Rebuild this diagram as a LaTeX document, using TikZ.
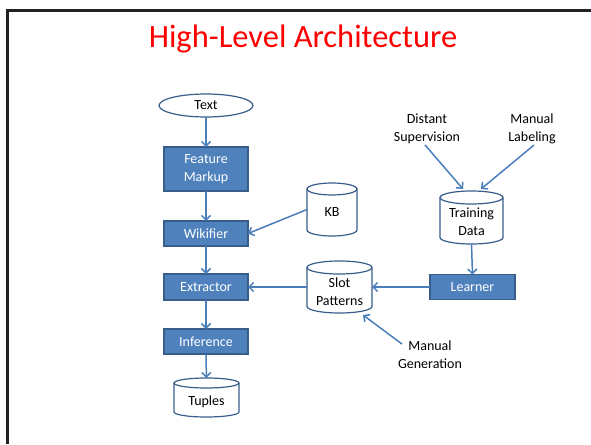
\documentclass[tikz,border=0pt]{standalone}
\usepackage{fontspec}
\setmainfont{Carlito}
\usetikzlibrary{shapes.geometric,arrows.meta,calc}
\definecolor{boxfill}{HTML}{4F81BD}
\definecolor{boxline}{HTML}{385D8A}
\definecolor{arrowblue}{HTML}{4A7EBB}
\definecolor{titlered}{HTML}{FF0000}
\definecolor{framegray}{HTML}{222222}

% outline of a data store: #1 node name, #2 half width, #3 radius of the end ellipses
\newcommand\storeoutline[3]{%
  \draw[cylline] ([yshift=-#3]#1.north west) -- ([yshift=#3]#1.south west)
    arc[start angle=180,end angle=360,x radius=#2,y radius=#3]
    -- ([yshift=-#3]#1.north east);
  \draw[cylline] ([yshift=-#3]#1.north) ellipse[x radius=#2,y radius=#3];
}

\begin{document}
\begin{tikzpicture}[x=1pt,y=-1pt,
  every node/.style={font=\fontsize{14}{18}\selectfont, outer sep=0pt},
  stage/.style={rectangle, fill=boxfill, draw=boxline, line width=1.2pt,
    text=white, minimum width=84pt, align=center, inner sep=0pt},
  store/.style={rectangle, draw=none, inner sep=0pt},
  cylline/.style={draw=boxline, line width=1.2pt},
  flow/.style={draw=arrowblue, line width=1.5pt,
    -{Straight Barb[length=4.5pt,width=9pt]}},
  note/.style={align=center, inner sep=1pt}]

\useasboundingbox (0,0) rectangle (591,444);

% slide frame
\draw[framegray, line width=2.5pt] (7.5,444) -- (7.5,10.5) -- (591,10.5);

% title
\node[anchor=base, text=titlered, font=\fontsize{32.5}{38}\selectfont] (title) at (303,48) {High-Level Architecture};

% main pipeline
\node[ellipse, draw=boxline, line width=1.2pt, minimum width=94pt, minimum height=23pt, inner sep=0pt] (text) at (206,105.5) {Text};
\node[stage, minimum height=44pt] (markup) at (206,169) {Feature\\Markup};
\node[stage, minimum height=25pt] (wiki) at (206,233.5) {Wikifier};
\node[stage, minimum height=26pt] (extract) at (206,287) {Extractor};
\node[stage, minimum height=25pt] (infer) at (206,341.5) {Inference};
\node[store, minimum width=65pt, minimum height=39pt,
  label={[yshift=-4pt]center:Tuples}] (tuples) at (206.5,397.5) {};
\storeoutline{tuples}{32.5pt}{5pt}

% knowledge sources
\node[store, minimum width=50pt, minimum height=53pt,
  label={[yshift=-3pt]center:KB}] (kb) at (332,209.5) {};
\storeoutline{kb}{25pt}{6pt}
\node[store, minimum width=65pt, minimum height=52pt,
  label={[yshift=-4.5pt,align=center]center:{Slot\\Patterns}}] (slot) at (339.5,287) {};
\storeoutline{slot}{32.5pt}{6.5pt}
\node[store, minimum width=63pt, minimum height=53pt,
  label={[yshift=-4.5pt,align=center]center:{Training\\Data}}] (train) at (471.5,217.5) {};
\storeoutline{train}{31.5pt}{6.5pt}
\node[stage, minimum width=85pt, minimum height=25pt] (learn) at (472.5,287) {Learner};

% annotations
\node[note] (distant) at (427,129) {Distant\\Supervision};
\node[note] (manlab) at (532,129) {Manual\\Labeling};
\node[note] (mangen) at (430,355) {Manual\\Generation};

% connectors
\draw[flow] (text) -- (markup);
\draw[flow] (markup) -- (wiki);
\draw[flow] (wiki) -- (extract);
\draw[flow] (extract) -- (infer);
\draw[flow] (infer) -- (tuples);
\draw[flow] (kb.west) -- (wiki.east);
\draw[flow] (slot.west) -- (extract.east);
\draw[flow] (learn.west) -- (slot.east);
\draw[flow] (train.south) -- (learn.north);
\draw[flow] ($(distant.south)+(-2,0)$) -- ($(train.north)+(-8.5,-2)$);
\draw[flow] ($(manlab.south)+(2,0)$) -- ($(train.north)+(9.5,-2)$);
\draw[flow] ($(mangen.north west)+(5,4)$) -- ($(slot.south)+(23.5,2)$);
\end{tikzpicture}
\end{document}
